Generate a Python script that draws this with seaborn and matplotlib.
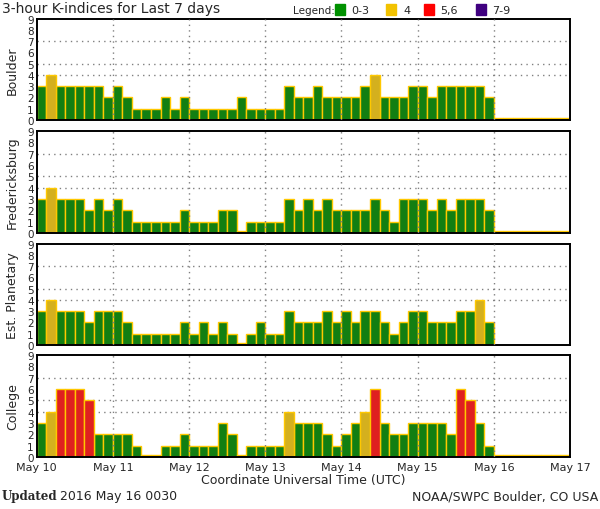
import numpy as np
import pandas as pd
import matplotlib
matplotlib.use("Agg")
import matplotlib.pyplot as plt
import seaborn as sns

stations = ["Boulder", "Fredericksburg", "Est. Planetary", "College"]
day_labels = ["May 10", "May 11", "May 12", "May 13", "May 14", "May 15", "May 16", "May 17"]
nan = np.nan
boulder = [3, 4, 3, 3, 3, 3, 3, 2,
           3, 2, 1, 1, 1, 2, 1, 2,
           1, 1, 1, 1, 1, 2, 1, 1,
           1, 1, 3, 2, 2, 3, 2, 2,
           2, 2, 3, 4, 2, 2, 2, 3,
           3, 2, 3, 3, 3, 3, 3, 2,
           0, 0, 0, 0, 0, 0, 0, 0]
fredericksburg = [3, 4, 3, 3, 3, 2, 3, 2,
                  3, 2, 1, 1, 1, 1, 1, 2,
                  1, 1, 1, 2, 2, 0, 1, 1,
                  1, 1, 3, 2, 3, 2, 3, 2,
                  2, 2, 2, 3, 2, 1, 3, 3,
                  3, 2, 3, 2, 3, 3, 3, 2,
                  0, 0, 0, 0, 0, 0, 0, 0]
planetary = [3, 4, 3, 3, 3, 2, 3, 3,
             3, 2, 1, 1, 1, 1, 1, 2,
             1, 2, 1, 2, 1, 0, 1, 2,
             1, 1, 3, 2, 2, 2, 3, 2,
             3, 2, 3, 3, 2, 1, 2, 3,
             3, 2, 2, 2, 3, 3, 4, 2,
             nan, nan, nan, nan, nan, nan, nan, nan]
college = [3, 4, 6, 6, 6, 5, 2, 2,
           2, 2, 1, 0, 0, 1, 1, 2,
           1, 1, 1, 3, 2, 0, 1, 1,
           1, 1, 4, 3, 3, 3, 2, 1,
           2, 3, 4, 6, 3, 2, 2, 3,
           3, 3, 3, 2, 6, 5, 3, 1,
           0, 0, 0, 0, 0, 0, 0, 0]
series = [boulder, fredericksburg, planetary, college]

cat_names = ["0-3", "4", "5,6", "7-9"]
cat_colors = {"0-3": "#009100", "4": "#F2C200", "5,6": "#FF0000", "7-9": "#3F0080"}
edge = "#FFC800"

def category(v):
    if v <= 3:
        return "0-3"
    if v == 4:
        return "4"
    if v <= 6:
        return "5,6"
    return "7-9"

fig = plt.figure(figsize=(6.0, 5.1), dpi=100)
sns.set_style("white")
plt.rcParams["font.family"] = ["DejaVu Sans"]

W, H = 600, 510
left_px, right_px = 36.7, 570
tops = [19.7, 132, 244.7, 356]
bottoms = [121, 234, 346, 458]

n = len(boulder)
for i, (name, vals) in enumerate(zip(stations, series)):
    ax = fig.add_axes([left_px / W, 1 - bottoms[i] / H,
                       (right_px - left_px) / W, (bottoms[i] - tops[i]) / H])
    df = pd.DataFrame({"idx": np.arange(n), "kp": vals})
    df["cat"] = [category(v) if not np.isnan(v) else "0-3" for v in df["kp"]]
    df["shown"] = [max(v, 0.2) if not np.isnan(v) else nan for v in df["kp"]]
    sns.barplot(data=df, x="idx", y="shown", hue="cat", hue_order=cat_names,
                palette=cat_colors, order=list(range(n)), dodge=False, width=1.0,
                edgecolor=edge, linewidth=1.0, legend=False, ax=ax, errorbar=None)
    ax.set_xlim(-0.5, n - 0.5)
    ax.set_ylim(0, 9)
    for yv in [4, 5, 7]:
        ax.axhline(yv, color="#808080", lw=1.0, ls=(0, (1, 3)), zorder=0)
    for d in range(1, 7):
        ax.axvline(d * 8 - 0.5, color="#808080", lw=1.0, ls=(0, (1, 3)), zorder=3)
    ax.set_yticks(range(10))
    ax.set_yticklabels([str(k) for k in range(10)], fontsize=7.5)
    ax.tick_params(axis="y", length=0, pad=2)
    ax.set_xticks([d * 8 - 0.5 for d in range(8)])
    ax.set_xticks(range(n), minor=True)
    ax.tick_params(axis="x", which="minor", direction="in", length=2.5, width=1, color=edge)
    ax.tick_params(axis="x", which="major", length=0)
    if i == 3:
        ax.set_xticklabels(day_labels, fontsize=8)
        ax.set_xlabel("Coordinate Universal Time (UTC)", fontsize=9, labelpad=1)
    else:
        ax.set_xticklabels([])
        ax.set_xlabel("")
    ax.set_ylabel(name, fontsize=9, labelpad=6)
    for s in ax.spines.values():
        s.set_color("black")
        s.set_linewidth(1.4)

fig.text(2 / W, 1 - 8.5 / H, "3-hour K-indices for Last 7 days", fontsize=10,
         va="center", ha="left")
fig.text(293 / W, 1 - 11 / H, "Legend:", fontsize=7.5, va="center", ha="left")
sq = [(335, "0-3", 351), (386, "4", 403), (424, "5,6", 440), (476, "7-9", 492)]
for x0, c, tx in sq:
    fig.patches.append(plt.Rectangle((x0 / W, 1 - 16 / H), 10 / W, 11 / H,
                                     transform=fig.transFigure, color=cat_colors[c]))
    fig.text(tx / W, 1 - 11 / H, c, fontsize=8, va="center", ha="left")

fig.text(2 / W, 1 - 497 / H, "Updated", fontsize=8.5, fontweight="bold",
         family="DejaVu Serif", va="center", ha="left")
fig.text(60 / W, 1 - 497 / H, "2016 May 16 0030", fontsize=9, va="center", ha="left")
fig.text(598 / W, 1 - 497 / H, "NOAA/SWPC Boulder, CO USA", fontsize=9,
         va="center", ha="right")

fig.savefig("out.png", dpi=100)
